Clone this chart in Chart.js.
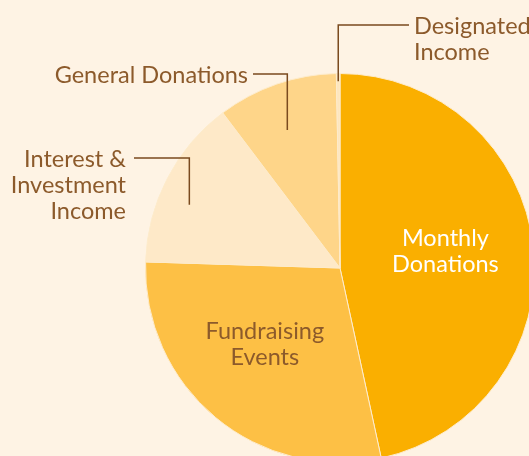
<!DOCTYPE html>
<html>
<head>
<meta charset="utf-8">
<script src="https://cdn.jsdelivr.net/npm/chart.js@4.4.0/dist/chart.umd.min.js"></script>
<style>
  html, body { margin: 0; padding: 0; background: #FEF3E4; overflow: hidden; }
  #wrap { position: absolute; left: 0; top: 0; width: 600px; height: 520px; }
</style>
</head>
<body>
<div id="wrap"><canvas id="c" width="600" height="520"></canvas></div>
<script>
// ---- data ----
const categories = ['Monthly Donations', 'Fundraising Events', 'Interest & Investment Income', 'General Donations', 'Designated Income'];
const shares = [46.6, 28.9, 14.2, 10.0, 0.3];
const labelLines = [
  ['Monthly', 'Donations'],
  ['Fundraising', 'Events'],
  ['Interest &', 'Investment', 'Income'],
  ['General Donations'],
  ['Designated', 'Income']
];
const sliceColors = ['#FAAF00', '#FDC045', '#FEE9C8', '#FED589', '#FDE6BE'];

// ---- label layout (annotation placement) ----
const FONT = '23.5px Lato';
const TEXT_COLOR = '#8C5A2B';
const LINE_COLOR = '#7A4A1E';
const LINE_H = 26;
const labelLayout = [
  { type: 'inside', t: 0.5, r: 0.55, dx: -1, dy: -5, color: '#FFFFFF' },
  { type: 'inside', t: 0.5, r: 0.54, dx: -8, dy: -4, color: TEXT_COLOR },
  { type: 'outside', t: 0.41, r: 0.84, elbowY: 158, lineEndX: 134, textX: 126, align: 'right' },
  { type: 'outside', t: 0.45, r: 0.76, elbowY: 74, lineEndX: 253, textX: 248, align: 'right' },
  { type: 'outside', t: 0.5, r: 0.96, elbowY: 25, lineEndX: 409, textX: 414, align: 'left' }
];

const labelPlugin = {
  id: 'sliceLabels',
  afterDatasetsDraw(chart) {
    const ctx = chart.ctx;
    const meta = chart.getDatasetMeta(0);
    ctx.save();
    ctx.font = FONT;
    ctx.textBaseline = 'middle';
    meta.data.forEach((arc, i) => {
      const p = arc.getProps(['x', 'y', 'startAngle', 'endAngle', 'outerRadius'], true);
      const L = labelLayout[i];
      const ang = p.startAngle + L.t * (p.endAngle - p.startAngle);
      const ax = p.x + Math.cos(ang) * p.outerRadius * L.r;
      const ay = p.y + Math.sin(ang) * p.outerRadius * L.r;
      const lines = labelLines[i];
      if (L.type === 'inside') {
        ctx.fillStyle = L.color;
        ctx.textAlign = 'center';
        const top = ay + L.dy - (lines.length - 1) * LINE_H / 2;
        lines.forEach((s, k) => ctx.fillText(s, ax + L.dx, top + k * LINE_H));
      } else {
        ctx.strokeStyle = LINE_COLOR;
        ctx.lineWidth = 1.5;
        ctx.beginPath();
        ctx.moveTo(ax, ay);
        ctx.lineTo(ax, L.elbowY);
        ctx.lineTo(L.lineEndX, L.elbowY);
        ctx.stroke();
        ctx.fillStyle = TEXT_COLOR;
        ctx.textAlign = L.align;
        lines.forEach((s, k) => ctx.fillText(s, L.textX, L.elbowY + 1 + k * LINE_H));
      }
    });
    ctx.restore();
  }
};

new Chart(document.getElementById('c'), {
  type: 'pie',
  data: {
    labels: categories,
    datasets: [{
      data: shares,
      backgroundColor: sliceColors,
      borderColor: '#FDEBCB',
      borderWidth: 1,
      hoverOffset: 0
    }]
  },
  options: {
    responsive: false,
    animation: false,
    layout: { padding: { left: 145, top: 73, right: 65, bottom: 57 } },
    plugins: { legend: { display: false }, tooltip: { enabled: false } }
  },
  plugins: [labelPlugin]
});
</script>
</body>
</html>
